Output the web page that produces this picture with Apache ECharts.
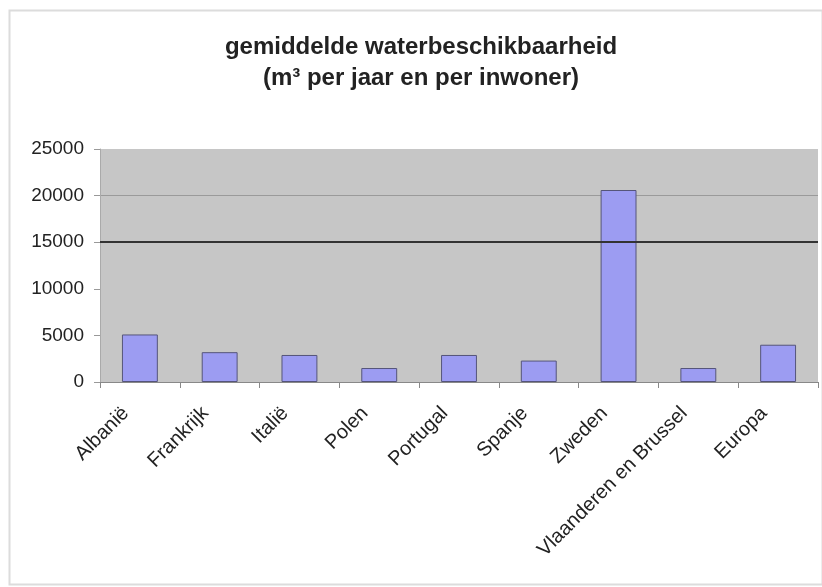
<!DOCTYPE html>
<html>
<head>
<meta charset="utf-8">
<script src="https://cdn.jsdelivr.net/npm/echarts@6/dist/echarts.min.js"></script>
<style>html,body{margin:0;padding:0;background:#fff}#c{width:822px;height:587px}</style>
</head>
<body>
<div id="c"></div>
<script>
const categories = ['Albanië','Frankrijk','Italië','Polen','Portugal','Spanje','Zweden','Vlaanderen en Brussel','Europa'];
const values = [5100, 3200, 2900, 1500, 2900, 2300, 20600, 1500, 4000];
const yTicks = [0, 5000, 10000, 15000, 20000, 25000];
const thresholdValue = 15000;
const titleLines = ['gemiddelde waterbeschikbaarheid', '(m³ per jaar en per inwoner)'];

const chart = echarts.init(document.getElementById('c'), null, {renderer:'canvas'});
const font = '"Liberation Sans", Arial, sans-serif';
chart.setOption({
  animation: false,
  backgroundColor: '#ffffff',
  graphic: [{
    type: 'rect', left: 7, top: 8,
    shape: {width: 813, height: 574},
    style: {fill: 'none', stroke: '#dcdcdc', lineWidth: 2},
    silent: true, z: -1
  }],
  title: {
    text: titleLines.join('\n'),
    left: 416, top: 27, textAlign: 'center',
    textStyle: {fontFamily: font, fontSize: 24, fontWeight: 'bold', color: '#222', lineHeight: 31}
  },
  grid: {left: 100, right: 4, top: 149, bottom: 205, show: true, backgroundColor: '#c6c6c6', borderWidth: 0},
  xAxis: {
    type: 'category', data: categories,
    axisLine: {lineStyle: {color: '#888', width: 1}},
    axisTick: {show: true, length: 6, lineStyle: {color: '#888'}},
    axisLabel: {rotate: 45, margin: 14, padding: [0, 20, 0, 0], fontFamily: font, fontSize: 20, color: '#222', interval: 0}
  },
  yAxis: {
    type: 'value', min: yTicks[0], max: yTicks[yTicks.length-1], interval: yTicks[1]-yTicks[0],
    axisLine: {show: true, lineStyle: {color: '#aaa'}},
    axisTick: {show: true, length: 6, lineStyle: {color: '#999'}},
    axisLabel: {margin: 16, fontFamily: font, fontSize: 19, color: '#222', formatter: v => String(v)},
    splitLine: {show: true, lineStyle: {color: ['rgba(0,0,0,0)','rgba(0,0,0,0)','rgba(0,0,0,0)','rgba(0,0,0,0)','#9a9a9a','rgba(0,0,0,0)'], width: 1}}
  },
  series: [{
    type: 'bar', data: values, barWidth: '45%',
    itemStyle: {color: '#9c9cf2', borderColor: '#55557a', borderWidth: 1},
    markLine: {
      silent: true, symbol: 'none', label: {show: false},
      lineStyle: {color: '#333', width: 2, type: 'solid'},
      data: [{yAxis: thresholdValue}]
    },
    z: 3
  }]
});
</script>
</body>
</html>
